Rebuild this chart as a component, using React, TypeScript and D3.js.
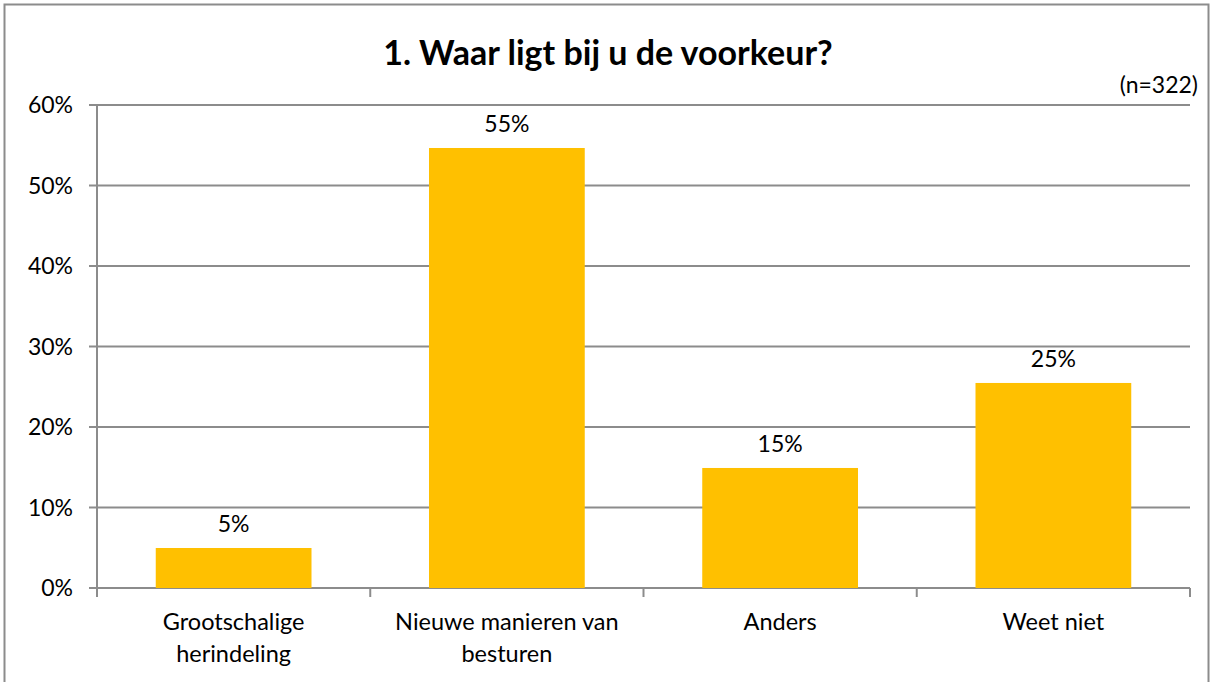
import React from "react";
import * as d3 from "d3";

const categories: string[][] = [
  ["Grootschalige", "herindeling"],
  ["Nieuwe manieren van", "besturen"],
  ["Anders"],
  ["Weet niet"],
];
const values: number[] = [4.97, 54.66, 14.91, 25.47];
const valueLabels: string[] = ["5%", "55%", "15%", "25%"];
const yTicks: number[] = [0, 10, 20, 30, 40, 50, 60];

const title = "1. Waar ligt bij u de voorkeur?";
const note = "(n=322)";

const W = 1214;
const H = 682;
const font = "Lato, 'Open Sans', sans-serif";

export default function App() {
  const left = 97;
  const right = 1190;
  const top = 105;
  const bottom = 588;

  const x = d3
    .scaleBand<number>()
    .domain(d3.range(values.length))
    .range([left, right])
    .paddingInner(0.43)
    .paddingOuter(0.215);

  const xOuter = d3
    .scaleBand<number>()
    .domain(d3.range(values.length))
    .range([left, right]);

  const y = d3.scaleLinear().domain([0, 60]).range([bottom, top]);

  const grid = "#8c8c8c";
  const boundaries = d3.range(values.length + 1).map((i) =>
    i < values.length ? xOuter(i)! : right
  );

  return (
    <div style={{ position: "absolute", left: 0, top: 0 }}>
      <svg width={W} height={H} style={{ display: "block" }}>
        <rect x={0} y={0} width={W} height={H} fill="#fff" />
        <rect
          x={4.5}
          y={4.5}
          width={1204}
          height={H + 10}
          fill="none"
          stroke="#8c8c8c"
          strokeWidth={2}
        />
        <text
          x={608}
          y={65}
          textAnchor="middle"
          fontFamily={font}
          fontWeight="bold"
          fontSize={34}
          fill="#000"
        >
          {title}
        </text>
        <text
          x={1198}
          y={93}
          textAnchor="end"
          fontFamily={font}
          fontSize={23}
          fill="#000"
        >
          {note}
        </text>

        {/* gridlines and y labels */}
        {yTicks.map((t) => (
          <g key={t}>
            <line
              x1={left - 8}
              x2={right}
              y1={y(t)}
              y2={y(t)}
              stroke={grid}
              strokeWidth={2}
            />
            <text
              x={73}
              y={y(t)}
              dy="0.35em"
              textAnchor="end"
              fontFamily={font}
              fontSize={23}
              fill="#000"
            >
              {t}%
            </text>
          </g>
        ))}
        <line x1={left} x2={left} y1={top} y2={bottom} stroke={grid} strokeWidth={2} />

        {/* bars */}
        {values.map((v, i) => (
          <g key={i}>
            <rect
              x={x(i)}
              y={y(v)}
              width={x.bandwidth()}
              height={y(0) - y(v)}
              fill="#ffc000"
            />
            <text
              x={x(i)! + x.bandwidth() / 2}
              y={y(v) - 16}
              textAnchor="middle"
              fontFamily={font}
              fontSize={23}
              fill="#000"
            >
              {valueLabels[i]}
            </text>
          </g>
        ))}

        {/* x axis ticks */}
        {boundaries.map((b, i) => (
          <line
            key={i}
            x1={b}
            x2={b}
            y1={bottom}
            y2={bottom + 9}
            stroke={grid}
            strokeWidth={2}
          />
        ))}

        {/* category labels */}
        {categories.map((lines, i) => (
          <text
            key={i}
            x={xOuter(i)! + xOuter.bandwidth() / 2}
            y={630}
            textAnchor="middle"
            fontFamily={font}
            fontSize={23.5}
            fill="#000"
          >
            {lines.map((l, j) => (
              <tspan key={j} x={xOuter(i)! + xOuter.bandwidth() / 2} dy={j === 0 ? 0 : 32}>
                {l}
              </tspan>
            ))}
          </text>
        ))}
      </svg>
    </div>
  );
}
